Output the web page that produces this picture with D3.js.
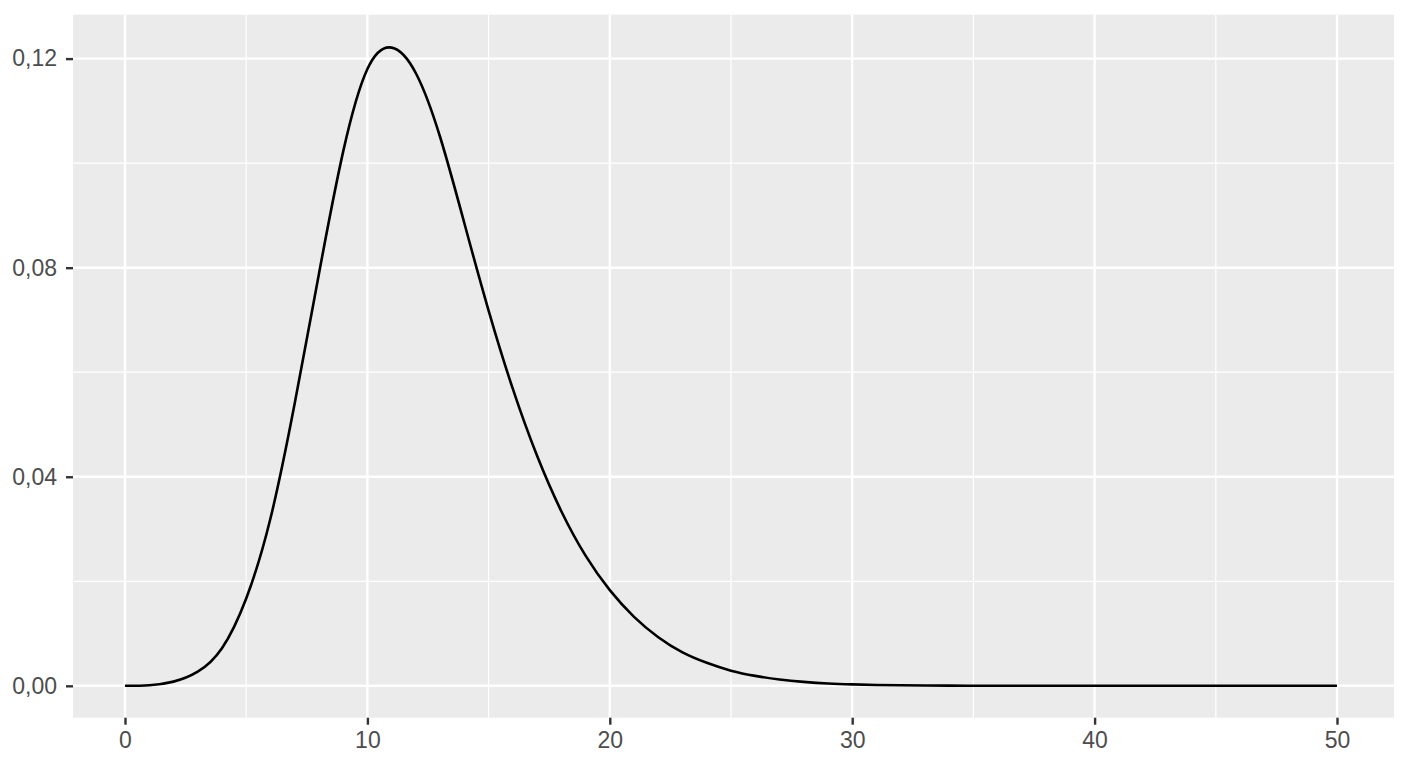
<!DOCTYPE html>
<html><head><meta charset="utf-8">
<script src="https://cdn.jsdelivr.net/npm/d3@7"></script>
<style>
html,body{margin:0;padding:0;background:#fff;}
svg{display:block;}
text{font-family:"Liberation Sans",Arial,Helvetica,sans-serif;}
</style></head>
<body>
<svg id="chart" width="1408" height="768"></svg>
<script>
// Data (density at x = 0, 1, ..., 50)
const xValues = d3.range(0, 51);
const densityValues = [
  0, 0.0001, 0.0008, 0.0027, 0.0072, 0.0167, 0.0320, 0.0540, 0.0788, 0.1022,
  0.1180, 0.1221, 0.1172, 0.1050, 0.0885, 0.0718, 0.0568, 0.0440, 0.0334, 0.0249,
  0.0183, 0.0132, 0.0093, 0.0064, 0.0044, 0.0029, 0.0019, 0.0012, 0.00075, 0.00045,
  0.00028, 0.00017, 0.0001, 0.00006, 0.00003, 0.00002, 0.00001, 0, 0, 0,
  0, 0, 0, 0, 0, 0, 0, 0, 0, 0, 0];
const xMajorTicks = [0,10,20,30,40,50];
const xMinorTicks = [5,15,25,35,45];
const yMajorTicks = [0,0.04,0.08,0.12];
const yMinorTicks = [0.02,0.06,0.10];

const svg = d3.select("#chart");
const panel = {left:73, top:14.7, right:1394, bottom:717.7};

const xMin = d3.min(xValues), xMax = d3.max(xValues);
const yMax = d3.max(densityValues);
const yPad = 0.0061;

const x = d3.scaleLinear().domain([xMin, xMax]).range([125, 1337]);
const y = d3.scaleLinear().domain([0 - yPad, 0.1223 + yPad]).range([panel.bottom, panel.top]);

const locale = d3.formatLocale({decimal:",", thousands:".", grouping:[3], currency:["","€"]});
const yFmt = locale.format(".2f");

svg.append("rect").attr("x",panel.left).attr("y",panel.top)
  .attr("width",panel.right-panel.left).attr("height",panel.bottom-panel.top)
  .attr("fill","#EBEBEB");

const grid = svg.append("g");
grid.selectAll(".ymin").data(yMinorTicks).join("line")
  .attr("x1",panel.left).attr("x2",panel.right)
  .attr("y1",d=>y(d)).attr("y2",d=>y(d))
  .attr("stroke","#fff").attr("stroke-width",1.2);
grid.selectAll(".xmin").data(xMinorTicks).join("line")
  .attr("y1",panel.top).attr("y2",panel.bottom)
  .attr("x1",d=>x(d)).attr("x2",d=>x(d))
  .attr("stroke","#fff").attr("stroke-width",1.2);
grid.selectAll(".ymaj").data(yMajorTicks).join("line")
  .attr("x1",panel.left).attr("x2",panel.right)
  .attr("y1",d=>y(d)).attr("y2",d=>y(d))
  .attr("stroke","#fff").attr("stroke-width",2.4);
grid.selectAll(".xmaj").data(xMajorTicks).join("line")
  .attr("y1",panel.top).attr("y2",panel.bottom)
  .attr("x1",d=>x(d)).attr("x2",d=>x(d))
  .attr("stroke","#fff").attr("stroke-width",2.4);

const pts = xValues.map((v,i)=>[v,densityValues[i]]);
svg.append("path").datum(pts)
  .attr("fill","none").attr("stroke","#000").attr("stroke-width",2.6)
  .attr("stroke-linejoin","round").attr("stroke-linecap","butt")
  .attr("d", d3.line().x(d=>x(d[0])).y(d=>y(d[1])).curve(d3.curveNatural));

const xAxis = d3.axisBottom(x).tickValues(xMajorTicks).tickSize(7).tickPadding(7).tickFormat(d3.format("d"));
const gx = svg.append("g").attr("transform",`translate(0,${panel.bottom})`).call(xAxis);
gx.select(".domain").remove();
gx.selectAll(".tick line").attr("stroke","#333").attr("stroke-width",2.4);
gx.selectAll(".tick text").attr("fill","#4D4D4D").style("font-size","23px");

const yAxis = d3.axisLeft(y).tickValues(yMajorTicks).tickSize(7).tickPadding(9).tickFormat(yFmt);
const gy = svg.append("g").attr("transform",`translate(${panel.left},0)`).call(yAxis);
gy.select(".domain").remove();
gy.selectAll(".tick line").attr("stroke","#333").attr("stroke-width",2.4);
gy.selectAll(".tick text").attr("fill","#4D4D4D").style("font-size","23px");
</script>
</body></html>
